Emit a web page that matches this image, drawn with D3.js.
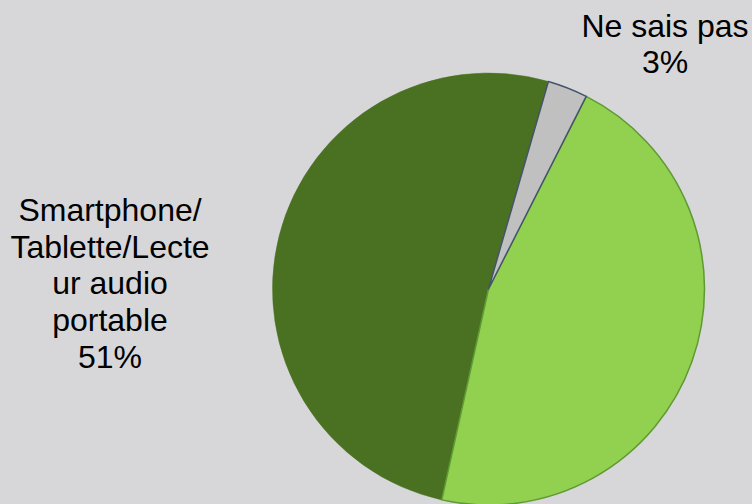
<!DOCTYPE html>
<html>
<head>
<meta charset="utf-8">
<script src="https://cdn.jsdelivr.net/npm/d3@7"></script>
<style>
  html, body { margin: 0; padding: 0; background: #d7d7d9; }
  svg { display: block; }
</style>
</head>
<body>
<svg id="chart" width="752" height="504"></svg>
<script>
// Data
const categories = ["Ne sais pas", "Ordinateur", "Smartphone/Tablette/Lecteur audio portable"];
const values = [3, 46, 51];
const labelLines = [
  ["Ne sais pas", "3%"],
  [],
  ["Smartphone/", "Tablette/Lecte", "ur audio", "portable", "51%"]
];
const fills = ["#c0c0c0", "#92d050", "#4a7121"];
const strokes = ["#44546a", "#5f9a33", "#4a7121"];

const W = 752, H = 504;
const cx = 488.5, cy = 289, R = 216;
const startDeg = 16.1;

const svg = d3.select("#chart");
svg.append("rect").attr("width", W).attr("height", H).attr("fill", "#d7d7d9");

const pie = d3.pie().sort(null).value(d => d.value)
  .startAngle(startDeg * Math.PI / 180)
  .endAngle(startDeg * Math.PI / 180 + 2 * Math.PI);
const arc = d3.arc().innerRadius(0).outerRadius(R);

const data = categories.map((c, i) => ({ cat: c, value: values[i], i }));
const arcs = pie(data);

const g = svg.append("g").attr("transform", `translate(${cx},${cy})`);
const order = [2, 1, 0];
g.selectAll("path").data(order.map(k => arcs[k])).join("path")
  .attr("d", arc)
  .attr("fill", d => fills[d.data.i])
  .attr("stroke", d => strokes[d.data.i])
  .attr("stroke-width", d => d.data.i === 2 ? 0.5 : 1.5)
  .attr("stroke-linejoin", "round");

// Labels
const labelPos = [
  { x: 665, y: 36.7 },
  null,
  { x: 110, y: 221 }
];
const lineH = 36.7;
labelLines.forEach((lines, i) => {
  if (!lines.length || !labelPos[i]) return;
  const t = svg.append("text")
    .attr("text-anchor", "middle")
    .attr("font-family", "Liberation Sans, Arial, sans-serif")
    .attr("font-size", 32)
    .attr("fill", "#000");
  lines.forEach((ln, j) => {
    t.append("tspan").attr("x", labelPos[i].x).attr("y", labelPos[i].y + j * lineH).text(ln);
  });
});
</script>
</body>
</html>
